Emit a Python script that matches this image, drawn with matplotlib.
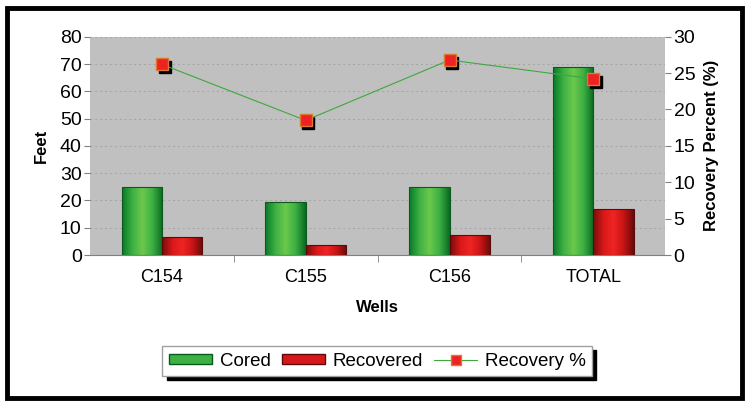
import numpy as np
import matplotlib.pyplot as plt
import matplotlib.transforms as mtransforms
from matplotlib.colors import LinearSegmentedColormap
from matplotlib.patches import Rectangle, Patch
from matplotlib.lines import Line2D

plt.rcParams["font.family"] = ["Liberation Sans", "DejaVu Sans"]

wells = ["C154", "C155", "C156", "TOTAL"]
cored = [25, 19.3, 25, 69]
recovered = [6.5, 3.5, 7.2, 17]
recovery_pct = [26.2, 18.5, 26.8, 24.2]

green_cmap = LinearSegmentedColormap.from_list(
    "g", ["#0a7a2a", "#3cb043", "#6cc84c", "#3cb043", "#0a6a22"])
red_cmap = LinearSegmentedColormap.from_list(
    "r", ["#7a0c0c", "#d81818", "#f02424", "#c81414", "#6a0a0a"])


def gradient_bars(ax, x, heights, width, cmap, edge):
    grad = np.linspace(0, 1, 64).reshape(1, -1)
    bars = ax.bar(x, heights, width, color="none", edgecolor=edge,
                  linewidth=0.8, zorder=3)
    for b in bars:
        im = ax.imshow(grad, cmap=cmap, aspect="auto", zorder=2.5,
                       extent=[b.get_x(), b.get_x() + b.get_width(),
                               0, b.get_height()])
        im.set_clip_path(b)
    return bars


fig = plt.figure(figsize=(7.5, 4.08), dpi=100)
fig.patch.set_facecolor("white")

# outer frame
fig.add_artist(Rectangle((0.009, 0.025), 0.98, 0.955, transform=fig.transFigure,
                         fill=False, edgecolor="black", linewidth=3.5))

ax = fig.add_axes([0.12, 0.375, 0.767, 0.535])
ax.set_facecolor("#c0c0c0")
x = np.arange(len(wells))
w = 0.28
gradient_bars(ax, x - w / 2, cored, w, green_cmap, "#0a5a1e")
gradient_bars(ax, x + w / 2, recovered, w, red_cmap, "#5a0a0a")
ax.set_xlim(-0.5, len(wells) - 0.5)
ax.set_ylim(0, 80)
ax.set_yticks(range(0, 81, 10))
ax.set_xticks(x)
ax.set_xticklabels(wells)
ax.yaxis.grid(True, linestyle=(0, (2, 3)), color="#a4a4a4", linewidth=0.7)
ax.set_axisbelow(True)
for s in ["top", "right", "left"]:
    ax.spines[s].set_visible(False)
ax.spines["bottom"].set_color("#808080")
ax.tick_params(axis="y", labelsize=14, length=4, color="#808080", pad=2)
ax.tick_params(axis="x", labelsize=13, length=0, pad=10)
ax.set_xticks(np.arange(0.5, len(wells) - 0.5, 1), minor=True)
ax.tick_params(axis="x", which="minor", length=5, color="#808080")
ax.set_ylabel("Feet", fontsize=12, fontweight="bold", labelpad=8)
ax.set_xlabel("Wells", fontsize=12, fontweight="bold", labelpad=10)

ax2 = ax.twinx()
ax2.set_ylim(0, 30)
ax2.set_yticks(range(0, 31, 5))
for s in ["top", "left", "bottom", "right"]:
    ax2.spines[s].set_visible(False)
ax2.tick_params(axis="y", labelsize=14, length=4, color="#808080", pad=2)
ax2.set_ylabel("Recovery Percent (%)", fontsize=12, fontweight="bold", labelpad=6)

shadow = mtransforms.offset_copy(ax2.transData, fig=fig, x=2, y=-2, units="points")
ax2.plot(x, recovery_pct, "s", color="black", markersize=8, transform=shadow,
         zorder=4)
ax2.plot(x, recovery_pct, "-", color="#3ea83e", linewidth=0.8, zorder=4)
ax2.plot(x, recovery_pct, "s", color="#ee2222", markeredgecolor="#d87a30",
         markersize=8, markeredgewidth=1, zorder=5)

# legend
handles = [
    Patch(facecolor="#3cb043", edgecolor="#0a5a1e"),
    Patch(facecolor="#d81818", edgecolor="#5a0a0a"),
    Line2D([0], [0], color="#3ea83e", linewidth=0.8, marker="s",
           markerfacecolor="#ee2222", markeredgecolor="#d87a30", markersize=7),
]
leg = fig.legend(handles, ["Cored", "Recovered", "Recovery %"], loc="center",
                 bbox_to_anchor=(0.503, 0.115), ncol=3, fontsize=13.5,
                 frameon=True, fancybox=False,
                 shadow={"color": "black", "alpha": 1, "ox": 3, "oy": -3},
                 edgecolor="#a0a0a0", handlelength=2.3, handleheight=0.5,
                 handletextpad=0.4, columnspacing=0.6, borderpad=0.35,
                 borderaxespad=0.2)

fig.savefig("out.png", dpi=100)
